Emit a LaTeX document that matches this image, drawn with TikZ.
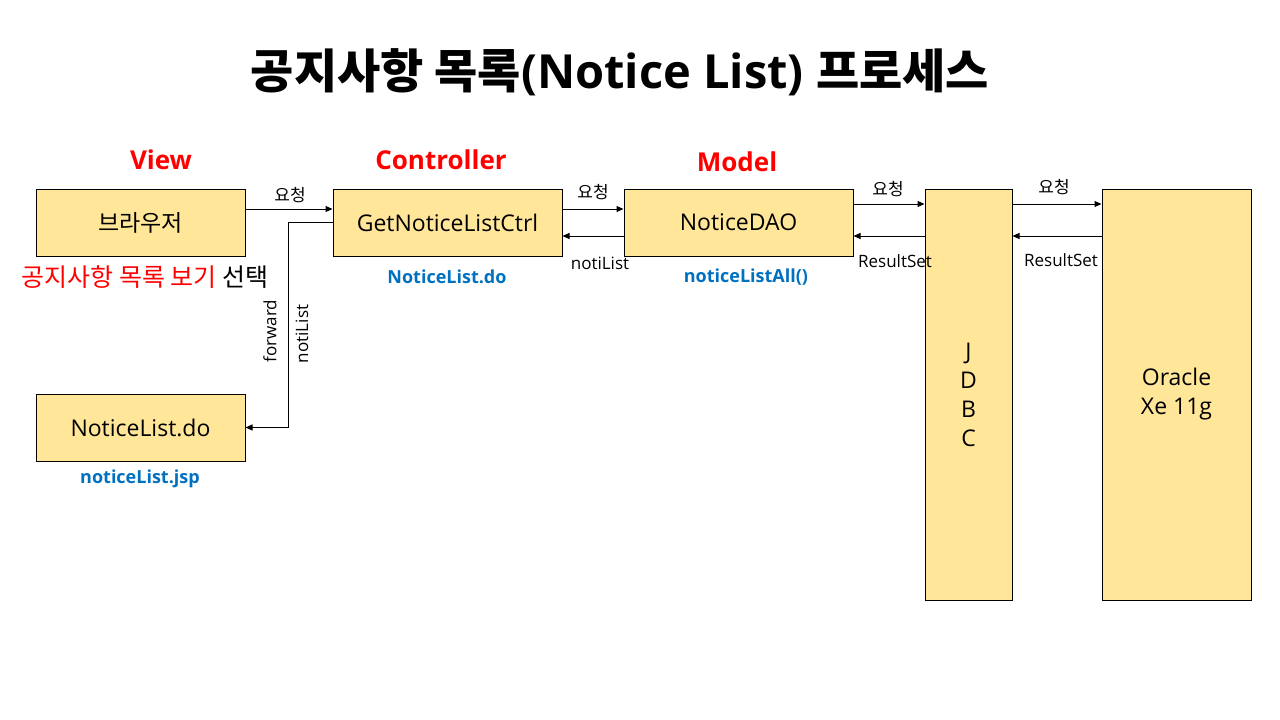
\documentclass[tikz,border=0pt]{standalone}
\usepackage{fontspec}
\setmainfont{Open Sans}
\newfontfamily\kr{Noto Sans CJK KR}
\usepackage{tikz}
\usetikzlibrary{arrows.meta}

\definecolor{boxfill}{HTML}{FFE699}
\definecolor{mvcred}{HTML}{FF0000}
\definecolor{fileblue}{HTML}{0070C0}

\begin{document}
\begin{tikzpicture}[
    x=1pt, y=-1pt,      % una unidad = un pixel
    font=\fontsize{23}{29}\selectfont,
    box/.style={draw, line width=1pt, fill=boxfill, inner sep=0pt, align=center},
    arr/.style={-{Triangle[length=7pt,width=6pt]}, line width=1pt},
    lbl/.style={font=\fontsize{17}{20}\selectfont, inner sep=0pt},
    layer/.style={font=\fontsize{26}{32}\selectfont\bfseries, text=mvcred},
    file/.style={font=\fontsize{18}{22}\selectfont\bfseries, text=fileblue},
]
\useasboundingbox (0,0) rectangle (1280,720);

% --- Titulo ---
\node (title) at (620,72) {\fontsize{47}{52}\selectfont\bfseries{\kr 공지사항 목록}(Notice List) {\kr 프로세스}};

% --- Capas MVC ---
\node[layer] (view) at (161,160) {View};
\node[layer] (controller) at (441,160) {Controller};
\node[layer] (model) at (737,162) {Model};

% --- Cajas ---
\node[box, minimum width=209, minimum height=67] (brow) at (140.5,222.5) {\kr 브라우저};
\node[box, minimum width=229, minimum height=67] (ctrl) at (447.5,222.5) {GetNoticeListCtrl};
\node[box, minimum width=229, minimum height=67] (dao) at (738.5,222.5) {NoticeDAO};
\node[box, minimum width=87, minimum height=411] (jdbc) at (968.5,394.5) {J\\D\\B\\C};
\node[box, minimum width=149, minimum height=411] (ora) at (1176.5,394.5) {Oracle\\Xe 11g};
\node[box, minimum width=209, minimum height=67] (list) at (140.5,427.5) {NoticeList.do};

% --- Textos bajo las cajas ---
\node (pick) at (145,277) {\kr\fontsize{25}{29}\selectfont\textcolor{mvcred}{공지사항 목록 보기} 선택};
\node[file] (ctrlfile) at (447,277) {NoticeList.do};
\node[file] (daofile) at (746,277) {noticeListAll()};
\node[file] (listfile) at (140,479) {noticeList.jsp};

% --- Peticiones (요청) ---
\draw[arr] ([yshift=13.5]brow.east) -- ([yshift=13.5]ctrl.west);
\node[lbl] (req1) at (290,195) {\kr 요청};
\draw[arr] ([yshift=13.5]ctrl.east) -- ([yshift=13.5]dao.west);
\node[lbl] (req2) at (593,192) {\kr 요청};
\draw[arr] ([yshift=18.5]dao.east) coordinate (p1) -- (p1 -| jdbc.west);
\node[lbl] (req3) at (888,189) {\kr 요청};
\draw[arr] (jdbc.east |- p1) -- (p1 -| ora.west);
\node[lbl] (req4) at (1054,187) {\kr 요청};

% --- Respuestas ---
\draw[arr] ([yshift=-13.5]dao.west) -- ([yshift=-13.5]ctrl.east);
\node[lbl] (res1) at (600,263) {notiList};
\coordinate (p2) at ([yshift=-13.5]dao.east);
\draw[arr] (p2 -| jdbc.west) -- (p2);
\node[lbl] (res2) at (895,261) {ResultSet};
\draw[arr] (p2 -| ora.west) -- (p2 -| jdbc.east);
\node[lbl] (res3) at (1061,260) {ResultSet};

% --- forward ---
\draw[arr] (ctrl.west) -- ++(-44,0) |- (list.east);
\node[lbl, rotate=90] (fwd) at (270,331) {forward};
\node[lbl, rotate=90] (fwdlist) at (302,334) {notiList};

\end{tikzpicture}
\end{document}
